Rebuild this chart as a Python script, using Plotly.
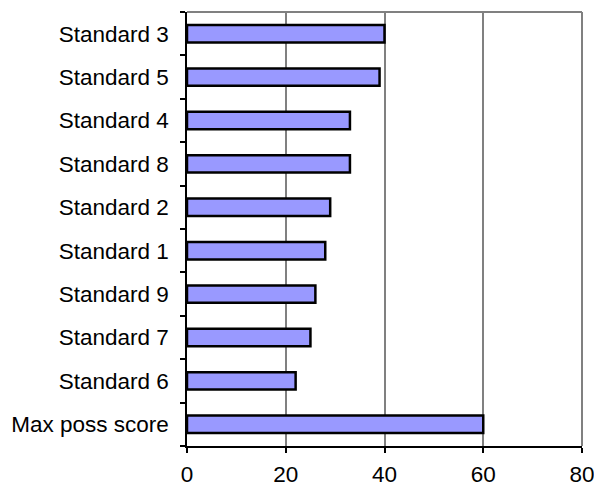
import plotly.graph_objects as go

# Scores per standard (bottom-to-top order on the chart)
categories = ["Max poss score", "Standard 6", "Standard 7", "Standard 9", "Standard 1",
              "Standard 2", "Standard 8", "Standard 4", "Standard 5", "Standard 3"]
scores = [60, 22, 25, 26, 28, 29, 33, 33, 39, 40]
x_ticks = [0, 20, 40, 60, 80]

font = dict(family="Liberation Sans, Arial, sans-serif", size=22.5, color="black")

fig = go.Figure(
    go.Bar(
        y=categories,
        x=scores,
        orientation="h",
        marker=dict(color="#9999ff", line=dict(color="black", width=2.5)),
        width=0.4,
    )
)

fig.update_layout(
    width=594,
    height=488,
    margin=dict(l=187, r=12, t=12, b=42),
    plot_bgcolor="white",
    paper_bgcolor="white",
    font=font,
    showlegend=False,
    xaxis=dict(
        range=[0, 80],
        tickvals=x_ticks,
        automargin=False,
        ticklabeloverflow="allow",
        showgrid=True,
        gridcolor="#808080",
        gridwidth=1.5,
        zeroline=False,
        showline=True,
        linecolor="black",
        linewidth=1.5,
        ticks="outside",
        ticklen=5,
        tickcolor="black",
        tickwidth=1.5,
        ticklabelstandoff=2,
    ),
    yaxis=dict(
        categoryorder="array",
        categoryarray=categories,
        range=[-0.5, len(categories) - 0.5],
        automargin=False,
        showgrid=False,
        zeroline=False,
        showline=True,
        linecolor="black",
        linewidth=1.5,
        ticks="outside",
        tickson="boundaries",
        ticklen=5,
        tickcolor="black",
        tickwidth=1.5,
        ticklabelstandoff=12,
    ),
    shapes=[
        # gray frame along the top and right edges of the plot area
        dict(type="line", xref="paper", yref="paper", x0=0, x1=1, y0=1, y1=1,
             line=dict(color="#808080", width=2)),
        dict(type="line", xref="paper", yref="paper", x0=1, x1=1, y0=0, y1=1,
             line=dict(color="#808080", width=2)),
    ],
)

fig.write_html("out.html")
